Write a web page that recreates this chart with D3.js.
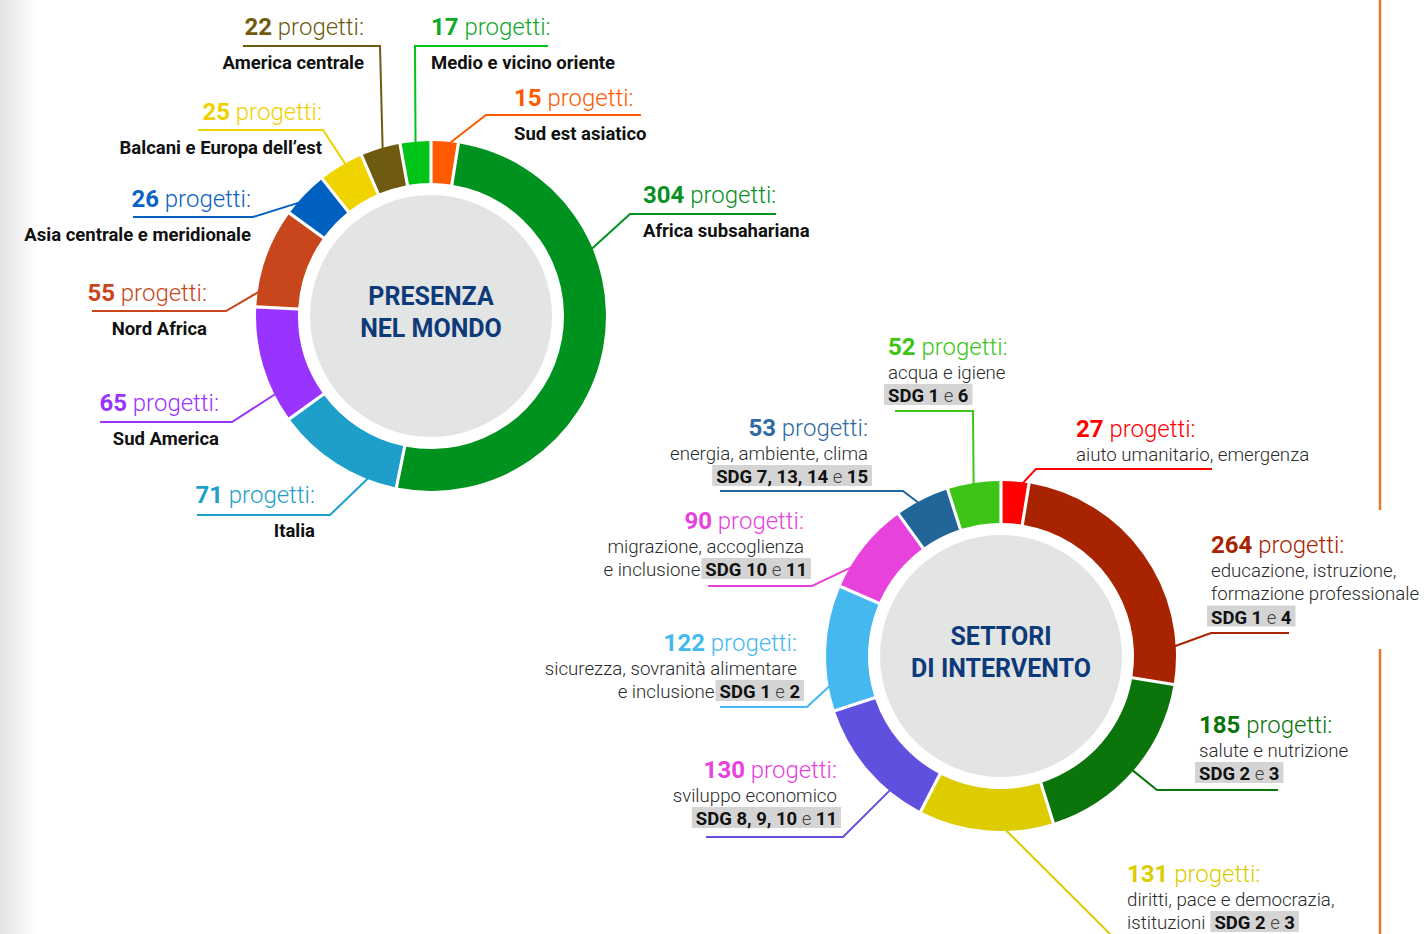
<!DOCTYPE html>
<html><head><meta charset="utf-8">
<style>
  body { margin: 0; background: #fff; }
  svg { display: block; font-family: Roboto, "Open Sans", sans-serif; }
</style>
</head><body>
<svg id="chart" width="1424" height="934"></svg>
<script src="https://cdnjs.cloudflare.com/ajax/libs/d3/7.8.5/d3.min.js"></script>
<script>
const W = 1424, H = 934;

// presenza nel mondo, clockwise from 12 o'clock
const regions = ["Sud est asiatico", "Africa subsahariana", "Italia", "Sud America", "Nord Africa",
  "Asia centrale e meridionale", "Balcani e Europa dell’est", "America centrale", "Medio e vicino oriente"];
const regionCounts = [15, 304, 71, 65, 55, 26, 25, 22, 17];
const regionColors = ["#ff5a00", "#00921f", "#1e9fca", "#9933ff", "#c7461c", "#0060c0", "#f0d400", "#6e5b10", "#00c418"];
const regionTextColors = ["#ff5a00", "#0a8f25", "#1e9fca", "#9933ff", "#c7461c", "#0a62c4", "#efd000", "#6e5b10", "#10a828"];

// settori di intervento, clockwise from 12 o'clock
const sectorCounts = [27, 264, 185, 131, 130, 122, 90, 53, 52];
const sectorDesc = [
  ["aiuto umanitario, emergenza"],
  ["educazione, istruzione,", "formazione professionale"],
  ["salute e nutrizione"],
  ["diritti, pace e democrazia,", "istituzioni"],
  ["sviluppo economico"],
  ["sicurezza, sovranità alimentare", "e inclusione"],
  ["migrazione, accoglienza", "e inclusione"],
  ["energia, ambiente, clima"],
  ["acqua e igiene"]
];
const sectorSdg = ["", "SDG 1 e 4", "SDG 2 e 3", "SDG 2 e 3", "SDG 8, 9, 10 e 11", "SDG 1 e 2", "SDG 10 e 11", "SDG 7, 13, 14 e 15", "SDG 1 e 6"];
const sectorColors = ["#ff0000", "#a82400", "#0b740b", "#dccc00", "#6050e0", "#45b8f0", "#e842dc", "#226599", "#3cc417"];
const sectorTextColors = ["#ff0000", "#a82400", "#0b740b", "#dccc00", "#e842dc", "#45b8f0", "#e842dc", "#2f6aa5", "#3cc417"];

const centerTitles = [["PRESENZA", "NEL MONDO"], ["SETTORI", "DI INTERVENTO"]];

// label placement (annotation layout)
const regionLayout = [
  { x: 514, y: 106, anchor: "start", t: 0.69, elbow: [486, 115], end: [641, 115] },
  { x: 643, y: 203, anchor: "start", t: 0.32, elbow: [630, 214], end: [776, 214] },
  { x: 315, y: 503, anchor: "end", t: 0.23, elbow: [330, 515], end: [197, 515] },
  { x: 219, y: 411, anchor: "end", t: 0.24, elbow: [232, 422], end: [100, 422] },
  { x: 207, y: 301, anchor: "end", t: 0.15, elbow: [226, 311], end: [92, 311] },
  { x: 251, y: 207, anchor: "end", t: 0.30, elbow: [253, 217], end: [133, 217] },
  { x: 322, y: 120, anchor: "end", t: 0.60, elbow: [323, 130], end: [198, 130] },
  { x: 364, y: 35, anchor: "end", t: 0.55, elbow: [380, 46], end: [243, 46] },
  { x: 431, y: 35, anchor: "start", t: 0.50, elbow: [415, 46], end: [548, 46] }
];
const sectorLayout = [
  { x: 1076, y: 437, anchor: "start", t: 0.77, elbow: [1036, 469], end: [1212, 469] },
  { x: 1211, y: 553, anchor: "start", t: 0.86, elbow: [1211, 633], end: [1289, 633] },
  { x: 1199, y: 733, anchor: "start", t: 0.50, elbow: [1157, 790], end: [1278, 790] },
  { x: 1127, y: 882, anchor: "start", t: 0.355, elbow: [1116, 940], end: null, inline: true },
  { x: 837, y: 778, anchor: "end", t: 0.276, elbow: [843, 837], end: [706, 837] },
  { x: 797, y: 651, anchor: "end", t: 0.20, elbow: [807, 707], end: [720, 707], inline: true },
  { x: 804, y: 529, anchor: "end", t: 0.234, elbow: [812, 586], end: [708, 586], inline: true },
  { x: 868, y: 436, anchor: "end", t: 0.417, elbow: [903, 491], end: [720, 491] },
  { x: 888, y: 355, anchor: "start", t: 0.49, elbow: [973, 411], end: [895, 411] }
];

const svg = d3.select("#chart");

// soft grey edge on the left
const defs = svg.append("defs");
const grad = defs.append("linearGradient").attr("id", "edge").attr("x1", 0).attr("x2", 1);
grad.append("stop").attr("offset", 0).attr("stop-color", "#e2e2e2");
grad.append("stop").attr("offset", 1).attr("stop-color", "#ffffff");
svg.append("rect").attr("x", 0).attr("y", 0).attr("width", 38).attr("height", H).attr("fill", "url(#edge)");

// orange page rule on the right
svg.append("line").attr("x1", 1380).attr("x2", 1380).attr("y1", 0).attr("y2", 510)
  .attr("stroke", "#e8792a").attr("stroke-width", 2.5);
svg.append("line").attr("x1", 1380).attr("x2", 1380).attr("y1", 649).attr("y2", H)
  .attr("stroke", "#e8792a").attr("stroke-width", 2.5);

const R_OUT = 175, R_IN = 133, R_CORE = 121;
const pie = d3.pie().sort(null).value(d => d);
const arc = d3.arc().innerRadius(R_IN).outerRadius(R_OUT).padAngle(0.018).padRadius(R_OUT);

function donut(cx, cy, counts, colors, title) {
  const g = svg.append("g").attr("transform", `translate(${cx},${cy})`);
  const arcs = pie(counts);
  g.append("circle").attr("r", R_CORE).attr("fill", "#e3e4e4");
  g.selectAll("path.seg").data(arcs).enter().append("path")
    .attr("class", "seg")
    .attr("d", arc)
    .attr("fill", (d, i) => colors[i]);
  const t = g.append("text").attr("text-anchor", "middle")
    .attr("fill", "#0d3a78").attr("font-weight", 700).attr("font-size", 25);
  t.append("tspan").attr("x", 0).attr("y", -11).text(title[0]);
  t.append("tspan").attr("x", 0).attr("y", 21).text(title[1]);
  return arcs;
}

function anchorPoint(cx, cy, d, t) {
  const a = d.startAngle + t * (d.endAngle - d.startAngle);
  const r = R_OUT - 1;
  return [cx + r * Math.sin(a), cy - r * Math.cos(a)];
}

function leader(points, color) {
  svg.append("path")
    .attr("d", d3.line()(points))
    .attr("fill", "none").attr("stroke", color).attr("stroke-width", 2);
}

function titleText(x, y, anchor, n, color) {
  const t = svg.append("text").attr("x", x).attr("y", y).attr("text-anchor", anchor)
    .attr("fill", color).attr("font-size", 24);
  t.append("tspan").attr("font-weight", 700).text(n);
  t.append("tspan").attr("font-weight", 300).text(" progetti:");
}

// SDG badge: grey box with bold numbers and a light "e"
function sdgBadge(x, y, anchor, sdg) {
  const parts = sdg.split(" e ");
  const t = svg.append("text").attr("y", y).attr("font-size", 18.5).attr("fill", "#111");
  t.append("tspan").attr("font-weight", 700).text(parts[0]);
  t.append("tspan").attr("font-weight", 300).attr("fill", "#444").text(" e ");
  t.append("tspan").attr("font-weight", 700).text(parts[1]);
  const w = t.node().getComputedTextLength();
  const x0 = anchor === "end" ? x - w : x;
  t.attr("x", x0);
  svg.insert("rect", function () { return t.node(); })
    .attr("x", x0 - 4).attr("y", y - 18).attr("width", w + 8).attr("height", 21)
    .attr("fill", "#d4d4d4");
  return { left: x0 - 4, right: x0 + w + 4 };
}

// left donut
const LCX = 431, LCY = 316;
const regionArcs = donut(LCX, LCY, regionCounts, regionColors, centerTitles[0]);
regionArcs.forEach((d, i) => {
  const L = regionLayout[i];
  leader([anchorPoint(LCX, LCY, d, L.t), L.elbow, L.end], regionColors[i]);
  titleText(L.x, L.y, L.anchor, regionCounts[i], regionTextColors[i]);
  svg.append("text").attr("x", L.x).attr("y", L.y + 34).attr("text-anchor", L.anchor)
    .attr("font-size", 18.5).attr("font-weight", 700).attr("fill", "#111")
    .text(regions[i]);
});

// right donut
const RCX = 1001, RCY = 656;
const sectorArcs = donut(RCX, RCY, sectorCounts, sectorColors, centerTitles[1]);
sectorArcs.forEach((d, i) => {
  const L = sectorLayout[i];
  const pts = [anchorPoint(RCX, RCY, d, L.t), L.elbow];
  if (L.end) pts.push(L.end);
  leader(pts, sectorColors[i]);
  titleText(L.x, L.y, L.anchor, sectorCounts[i], sectorTextColors[i]);
  const lines = sectorDesc[i];
  let y = L.y;
  lines.forEach((line, k) => {
    y += 23.5;
    const isLast = k === lines.length - 1;
    const txt = svg.append("text").attr("y", y).attr("text-anchor", L.anchor)
      .attr("font-size", 18.7).attr("font-weight", 300).attr("fill", "#2a2a2a").text(line);
    if (isLast && L.inline && sectorSdg[i]) {
      if (L.anchor === "end") {
        const b = sdgBadge(L.x + 3, y, "end", sectorSdg[i]);
        txt.attr("x", b.left - 1);
      } else {
        txt.attr("x", L.x);
        const w = txt.node().getComputedTextLength();
        sdgBadge(L.x + w + 9, y, "start", sectorSdg[i]);
      }
    } else {
      txt.attr("x", L.x);
    }
  });
  if (!L.inline && sectorSdg[i]) {
    y += 23.5;
    if (L.anchor === "end") sdgBadge(L.x, y, "end", sectorSdg[i]);
    else sdgBadge(L.x, y, "start", sectorSdg[i]);
  }
});
</script>
</body></html>
